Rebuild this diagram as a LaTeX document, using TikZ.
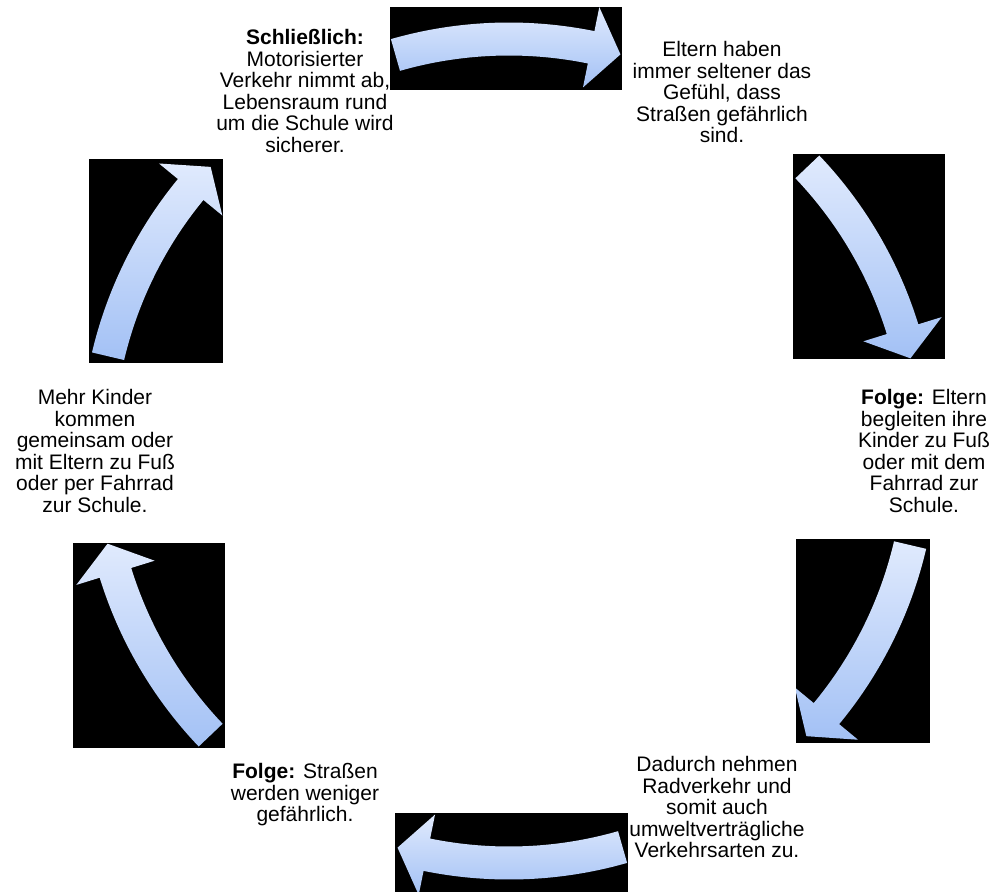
\documentclass[tikz,border=0pt]{standalone}
\usepackage{fontspec}
\setmainfont{Liberation Sans}
\definecolor{arrtop}{HTML}{E0EAFD}
\definecolor{arrbot}{HTML}{A3C1F5}
\tikzset{
  lbl/.style={align=center, font=\fontsize{21}{21.5}\selectfont, inner sep=0pt, text=black},
  arrowbody/.style={top color=arrtop, bottom color=arrbot, draw=none},
}
% #1,#2,#3,#4 clip rectangle; #5 tail angle; #6 head base angle; #7 tip angle
\newcommand\cycarrow[7]{%
  \begin{scope}
    \clip (#1,#2) rectangle (#3,#4);
    \fill[black] (#1,#2) rectangle (#3,#4);
    \begin{scope}[shift={(509,451)}]
      \fill[arrowbody] (#5:428.5) arc[start angle=#5, end angle=#6, radius=428.5]
        -- (#6:453) -- (#7:412) -- (#6:371) -- (#6:395.5)
        arc[start angle=#6, end angle=#5, radius=395.5] -- cycle;
    \end{scope}
  \end{scope}}
\begin{document}
\begin{tikzpicture}[x=1pt,y=-1pt]
\useasboundingbox (0,0) rectangle (994,892);
\fill[white] (0,0) rectangle (994,892);
% arrows (clockwise cycle)
\cycarrow{390}{7}{622}{90}{-106}{-78.5}{-74.3}
\cycarrow{793}{154}{945}{359}{-43.6}{-17.2}{-13}
\cycarrow{796}{539}{930}{743}{13.2}{39.6}{43.8}
\cycarrow{395}{813}{628}{892}{74}{101.5}{105.7}
\cycarrow{73}{543}{225}{748}{136.4}{162.8}{167}
\cycarrow{89}{159}{223}{363}{193.3}{219.4}{223.6}
% texts
\node[lbl] (t1) at (305,91) {\textbf{Schließlich:}\\Motorisierter\\Verkehr nimmt ab,\\Lebensraum rund\\um die Schule wird\\sicherer.};
\node[lbl] (t2) at (722,92) {Eltern haben\\immer seltener das\\Gefühl, dass\\Straßen gefährlich\\sind.};
\node[lbl] (t3) at (924,451) {\textbf{Folge:} Eltern\\begleiten ihre\\Kinder zu Fuß\\oder mit dem\\Fahrrad zur\\Schule.};
\node[lbl] (t4) at (717,807) {Dadurch nehmen\\Radverkehr und\\somit auch\\umweltverträgliche\\Verkehrsarten zu.};
\node[lbl] (t5) at (305,795) {\textbf{Folge:} Straßen\\werden weniger\\gefährlich.};
\node[lbl] (t6) at (95,451) {Mehr Kinder\\kommen\\gemeinsam oder\\mit Eltern zu Fuß\\oder per Fahrrad\\zur Schule.};
\end{tikzpicture}
\end{document}
